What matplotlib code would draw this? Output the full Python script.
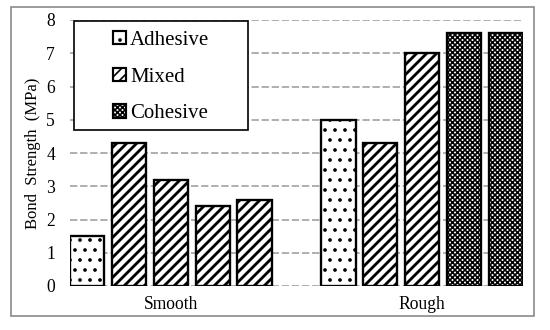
import numpy as np
import matplotlib
matplotlib.use('Agg')
import matplotlib.pyplot as plt
import matplotlib.patches as mpatches

plt.rcParams['font.family'] = ['Liberation Serif', 'DejaVu Serif']

# Bond strength per specimen
groups = ['Smooth', 'Rough']
smooth_values = [1.5, 4.3, 3.2, 2.4, 2.6]
smooth_modes = ['Adhesive', 'Mixed', 'Mixed', 'Mixed', 'Mixed']
rough_values = [5.0, 4.3, 7.0, 7.6, 7.6]
rough_modes = ['Adhesive', 'Mixed', 'Mixed', 'Cohesive', 'Cohesive']
y_ticks = [0, 1, 2, 3, 4, 5, 6, 7, 8]

# Failure mode styles
STYLES = {
    'Adhesive': {'hatch': '..', 'hlw': 1.0},
    'Mixed': {'hatch': '////', 'hlw': 1.7},
    'Cohesive': {'hatch': 'xxxxxxxx', 'hlw': 1.0},
}

DPI = 120
fig = plt.figure(figsize=(550 / DPI, 330 / DPI), dpi=DPI)
ax = fig.add_axes([70 / 550, 1 - 286 / 330, 453 / 550, 266 / 330])

# outer gray frame
fig.patches.append(mpatches.Rectangle((0.02, 0.042), 0.951, 0.937, transform=fig.transFigure,
                                      fill=False, edgecolor='#8a8a8a', linewidth=1.0))


def draw_bar(x, h, mode):
    st = STYLES[mode]
    with plt.rc_context({'hatch.linewidth': st['hlw'], 'hatch.color': 'black'}):
        b = ax.bar(x, h, 0.82, color='white', edgecolor='black', linewidth=1.4,
                   hatch=st['hatch'], zorder=3)
        for p in b:
            if hasattr(p, 'set_hatch_linewidth'):
                p.set_hatch_linewidth(st['hlw'])
    return b


x_smooth = np.arange(len(smooth_values))
x_rough = np.arange(len(rough_values)) + len(smooth_values) + 1
for x, h, m in zip(x_smooth, smooth_values, smooth_modes):
    draw_bar(x, h, m)
for x, h, m in zip(x_rough, rough_values, rough_modes):
    draw_bar(x, h, m)

ax.set_xlim(-0.41, x_rough[-1] + 0.41)
ax.set_ylim(0, 8)
ax.set_yticks(y_ticks)
ax.set_xticks([x_smooth[2], x_rough[2]])
ax.set_xticklabels(groups, fontsize=10.5)
ax.tick_params(axis='y', length=0, pad=9, labelsize=10.5)
ax.tick_params(axis='x', length=0, pad=6)
for s in ax.spines.values():
    s.set_visible(False)
ax.grid(axis='y', color='#ababab', linestyle=(0, (4, 1.5)), linewidth=1.1, zorder=0)
ax.set_axisbelow(True)
ax.set_ylabel('Bond  Strength  (MPa)', fontsize=10)
ax.yaxis.set_label_coords(-0.064, 0.5)

# legend box
box = mpatches.Rectangle((0.009, 0.586), 0.385, 0.41, transform=ax.transAxes,
                         facecolor='white', edgecolor='black', linewidth=1.0, zorder=4,
                         clip_on=False)
ax.add_patch(box)
handles = []
for mode in ['Adhesive', 'Mixed', 'Cohesive']:
    st = STYLES[mode]
    h = mpatches.Patch(facecolor='white', edgecolor='black', linewidth=1.3,
                       hatch=st['hatch'], label=mode)
    if hasattr(h, 'set_hatch_linewidth'):
        h.set_hatch_linewidth(st['hlw'])
    handles.append(h)
leg = ax.legend(handles=handles, loc='center', bbox_to_anchor=(0.009 + 0.385 / 2, 0.58 + 0.41 / 2),
                frameon=False, fontsize=12.5, handlelength=0.6, handleheight=0.6,
                handletextpad=0.2, labelspacing=0.85)
leg.set_zorder(5)

fig.savefig('out.png', dpi=DPI)
